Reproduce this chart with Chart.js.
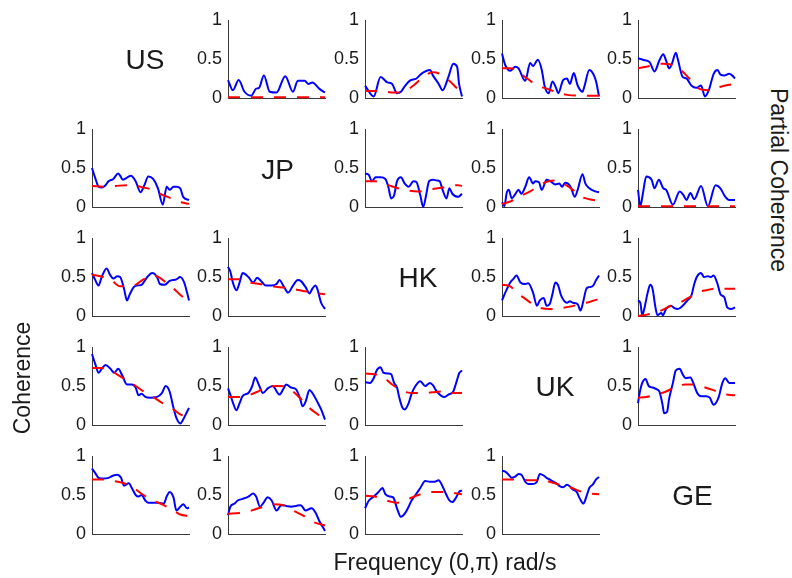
<!DOCTYPE html>
<html><head><meta charset="utf-8">
<script src="https://cdn.jsdelivr.net/npm/chart.js@4"></script>
<style>
html,body{margin:0;padding:0;background:#fff}
body{width:792px;height:578px;overflow:hidden;position:relative;font-family:"Liberation Sans",Arial,sans-serif;color:#000}
.pan{position:absolute}
.lab{position:absolute;line-height:1;white-space:nowrap;transform:translate(-50%,-50%)}
</style></head><body>
<script>
// ---------- data (x = fraction of frequency range 0..pi, y = coherence) ----------
const countries = ['US','JP','HK','UK','GE'];
const yTicks = [0, 0.5, 1];
const yTickLabels = ['0', '0.5', '1'];

// Row US (partial coherence, upper triangle)
const US_JP_blue = [[0,.23],[.05,.10],[.11,.23],[.17,.08],[.24,.03],[.29,.12],[.32,.13],[.37,.29],[.43,.08],[.5,.07],[.59,.28],[.67,.08],[.72,.22],[.79,.22],[.83,.18],[.87,.2],[.94,.12],[1,.07]];
const US_JP_red = [[0,.01],[1,.01]];
const US_HK_blue = [[0,.16],[.09,.02],[.16,.27],[.23,.2],[.28,.18],[.33,.06],[.37,.08],[.41,.15],[.46,.22],[.53,.25],[.58,.31],[.67,.36],[.70,.29],[.76,.18],[.80,.10],[.86,.27],[.91,.44],[.95,.40],[.97,.18],[1,.02]];
const US_HK_red = [[0,.09],[.15,.09],[.3,.07],[.36,.07],[.5,.16],[.6,.27],[.7,.33],[.77,.31],[.86,.23],[.97,.1],[1,.07]];
const US_UK_blue = [[0,.57],[.034,.42],[.085,.35],[.137,.40],[.17,.38],[.24,.22],[.29,.45],[.32,.41],[.37,.49],[.41,.36],[.44,.15],[.48,.06],[.52,.21],[.56,.12],[.58,.06],[.63,.23],[.67,.25],[.70,.18],[.74,.32],[.78,.16],[.83,.08],[.85,.15],[.90,.36],[.94,.31],[.97,.21],[1,.02]];
const US_UK_red = [[0,.38],[.085,.38],[.137,.37],[.19,.31],[.26,.25],[.36,.16],[.46,.12],[.55,.08],[.67,.04],[.84,.03],[1,.03]];
const US_GE_blue = [[0,.51],[.05,.49],[.12,.46],[.17,.34],[.22,.48],[.26,.56],[.29,.48],[.32,.38],[.35,.44],[.39,.58],[.41,.5],[.46,.27],[.50,.25],[.55,.16],[.60,.13],[.65,.16],[.69,.02],[.73,.10],[.78,.31],[.82,.36],[.85,.30],[.89,.29],[.94,.31],[.97,.29],[1,.25]];
const US_GE_red = [[0,.38],[.12,.41],[.26,.44],[.36,.42],[.44,.36],[.53,.25],[.63,.12],[.73,.1],[.84,.14],[.94,.17],[1,.18]];

// Row JP
const JP_US_blue = [[0,.50],[.034,.37],[.068,.26],[.10,.25],[.14,.28],[.17,.33],[.22,.36],[.27,.43],[.32,.35],[.34,.36],[.40,.40],[.45,.33],[.50,.19],[.54,.28],[.58,.39],[.63,.36],[.68,.24],[.73,.03],[.77,.26],[.80,.22],[.84,.26],[.87,.26],[.91,.24],[.94,.13],[1,.09]];
const JP_US_red = [[0,.27],[.12,.26],[.24,.27],[.36,.28],[.45,.27],[.53,.25],[.60,.23],[.70,.17],[.80,.12],[.92,.06],[1,.04]];
const JP_HK_blue = [[0,.43],[.04,.41],[.07,.33],[.11,.38],[.16,.38],[.21,.36],[.24,.26],[.27,.11],[.30,.15],[.33,.33],[.37,.38],[.41,.30],[.45,.26],[.50,.33],[.53,.32],[.57,.15],[.60,.0],[.63,.15],[.66,.33],[.70,.35],[.74,.34],[.77,.33],[.80,.22],[.84,.11],[.87,.24],[.90,.17],[.96,.13],[1,.17]];
const JP_HK_red = [[0,.33],[.1,.33],[.24,.28],[.34,.24],[.45,.21],[.55,.2],[.7,.23],[.8,.25],[.96,.28],[1,.27]];
const JP_UK_blue = [[0,.06],[.024,.01],[.05,.19],[.07,.22],[.10,.11],[.14,.17],[.17,.22],[.20,.17],[.24,.26],[.28,.38],[.32,.30],[.34,.33],[.38,.32],[.41,.22],[.46,.35],[.50,.33],[.55,.29],[.59,.30],[.62,.26],[.65,.31],[.68,.30],[.71,.25],[.75,.13],[.78,.22],[.83,.42],[.86,.30],[.90,.24],[.96,.20],[1,.19]];
const JP_UK_red = [[0,.04],[.085,.07],[.19,.14],[.29,.2],[.39,.28],[.48,.33],[.56,.34],[.66,.28],[.73,.22],[.82,.13],[.9,.1],[1,.08]];
const JP_GE_blue = [[0,.22],[.024,.01],[.05,.17],[.085,.39],[.14,.35],[.17,.24],[.215,.35],[.26,.24],[.29,.22],[.36,.03],[.43,.2],[.47,.15],[.5,.09],[.54,.18],[.58,.1],[.65,.27],[.72,.01],[.80,.28],[.85,.24],[.89,.15],[.94,.09],[1,.09]];
const JP_GE_red = [[0,.01],[1,.01]];

// Row HK
const HK_US_blue = [[0,.55],[.034,.46],[.068,.39],[.10,.50],[.15,.61],[.19,.52],[.22,.48],[.26,.51],[.29,.50],[.33,.35],[.36,.20],[.39,.28],[.43,.37],[.46,.39],[.51,.40],[.57,.50],[.62,.55],[.67,.50],[.70,.41],[.75,.40],[.80,.45],[.87,.47],[.91,.50],[.95,.43],[.98,.30],[1,.20]];
const HK_US_red = [[0,.53],[.086,.51],[.19,.47],[.29,.38],[.36,.38],[.45,.40],[.53,.47],[.62,.52],[.70,.49],[.77,.42],[.86,.33],[.92,.26],[1,.20]];
const HK_JP_blue = [[0,.63],[.024,.57],[.05,.43],[.086,.33],[.12,.43],[.15,.55],[.21,.50],[.26,.43],[.30,.49],[.34,.45],[.39,.39],[.45,.39],[.50,.41],[.53,.46],[.57,.39],[.62,.30],[.67,.39],[.72,.46],[.75,.45],[.80,.37],[.84,.29],[.87,.35],[.90,.39],[.92,.35],[.96,.17],[1,.09]];
const HK_JP_red = [[0,.47],[.12,.47],[.22,.43],[.33,.41],[.46,.38],[.60,.36],[.74,.33],[.87,.30],[1,.28]];
const HK_UK_blue = [[0,.20],[.034,.30],[.085,.43],[.12,.48],[.15,.52],[.19,.43],[.24,.41],[.27,.42],[.32,.30],[.36,.13],[.39,.20],[.43,.23],[.46,.13],[.49,.15],[.52,.28],[.55,.43],[.58,.39],[.61,.26],[.67,.17],[.70,.19],[.73,.17],[.78,.15],[.81,.07],[.84,.20],[.87,.35],[.90,.37],[.94,.39],[.97,.46],[1,.52]];
const HK_UK_red = [[0,.40],[.085,.38],[.15,.30],[.24,.22],[.32,.15],[.41,.10],[.49,.09],[.6,.10],[.7,.12],[.8,.15],[.9,.18],[1,.22]];
const HK_GE_blue = [[0,.20],[.024,.17],[.044,.01],[.068,.11],[.10,.30],[.126,.40],[.15,.35],[.18,.11],[.20,.01],[.24,.04],[.256,.01],[.29,.09],[.34,.13],[.375,.10],[.41,.09],[.46,.13],[.51,.20],[.55,.26],[.58,.41],[.61,.51],[.65,.55],[.68,.50],[.72,.51],[.75,.50],[.78,.52],[.82,.41],[.85,.28],[.89,.24],[.92,.11],[.96,.09],[1,.11]];
const HK_GE_red = [[0,.0],[.1,.02],[.22,.06],[.32,.12],[.43,.17],[.53,.24],[.61,.3],[.7,.33],[.8,.35],[.9,.35],[1,.35]];

// Row UK
const UK_US_blue = [[0,.91],[.034,.78],[.068,.67],[.10,.72],[.14,.77],[.19,.72],[.23,.67],[.27,.72],[.31,.64],[.36,.52],[.41,.52],[.45,.48],[.48,.38],[.51,.40],[.55,.36],[.60,.35],[.67,.36],[.72,.41],[.76,.50],[.80,.43],[.84,.22],[.87,.09],[.91,.02],[.94,.07],[.98,.17],[1,.22]];
const UK_US_red = [[0,.73],[.1,.73],[.19,.70],[.27,.64],[.36,.57],[.45,.50],[.53,.43],[.64,.35],[.74,.27],[.84,.20],[.92,.13],[1,.11]];
const UK_JP_blue = [[0,.47],[.024,.39],[.058,.26],[.086,.19],[.12,.28],[.15,.37],[.21,.41],[.25,.50],[.28,.61],[.32,.51],[.36,.41],[.41,.47],[.46,.50],[.53,.39],[.57,.46],[.60,.52],[.65,.48],[.70,.46],[.74,.35],[.77,.24],[.80,.30],[.84,.45],[.87,.41],[.92,.30],[.96,.20],[1,.07]];
const UK_JP_red = [[0,.36],[.086,.36],[.19,.37],[.29,.42],[.39,.48],[.50,.50],[.60,.49],[.67,.43],[.74,.35],[.82,.24],[.91,.15],[1,.07]];
const UK_HK_blue = [[0,.55],[.05,.54],[.09,.6],[.12,.7],[.16,.74],[.19,.67],[.24,.66],[.27,.65],[.30,.54],[.33,.48],[.35,.37],[.38,.24],[.41,.2],[.45,.28],[.48,.4],[.52,.5],[.57,.56],[.62,.5],[.67,.54],[.70,.51],[.74,.43],[.79,.37],[.82,.36],[.86,.39],[.91,.43],[.94,.54],[.97,.66],[1,.7]];
const UK_HK_red = [[0,.66],[.1,.65],[.2,.6],[.28,.52],[.33,.48],[.4,.43],[.5,.41],[.6,.41],[.7,.42],[.78,.43],[.88,.41],[1,.41]];
const UK_GE_blue = [[0,.28],[.017,.41],[.044,.54],[.078,.59],[.11,.50],[.15,.48],[.19,.46],[.22,.43],[.25,.28],[.27,.15],[.30,.17],[.32,.33],[.36,.54],[.39,.70],[.43,.72],[.46,.65],[.49,.60],[.54,.61],[.57,.54],[.61,.41],[.65,.37],[.70,.37],[.74,.35],[.78,.26],[.83,.35],[.87,.54],[.90,.60],[.94,.54],[1,.54]];
const UK_GE_red = [[0,.35],[.085,.36],[.19,.39],[.29,.43],[.39,.49],[.49,.52],[.58,.52],[.67,.49],[.77,.45],[.87,.40],[1,.38]];

// Row GE
const GE_US_blue = [[0,.84],[.034,.78],[.068,.72],[.12,.71],[.17,.72],[.22,.75],[.26,.76],[.30,.72],[.33,.62],[.38,.65],[.41,.59],[.45,.50],[.48,.48],[.51,.50],[.55,.43],[.58,.40],[.63,.40],[.68,.40],[.74,.39],[.77,.48],[.80,.54],[.84,.47],[.87,.30],[.91,.35],[.94,.38],[.98,.33],[1,.34]];
const GE_US_red = [[0,.70],[.1,.70],[.22,.68],[.33,.65],[.43,.59],[.53,.50],[.63,.43],[.74,.37],[.84,.30],[.91,.25],[1,.23]];
const GE_JP_blue = [[0,.24],[.024,.35],[.068,.39],[.10,.43],[.15,.45],[.21,.48],[.26,.52],[.29,.48],[.33,.35],[.36,.39],[.41,.47],[.45,.43],[.50,.30],[.55,.37],[.60,.36],[.65,.35],[.70,.36],[.75,.37],[.80,.30],[.86,.33],[.90,.28],[.94,.17],[1,.04]];
const GE_JP_red = [[0,.26],[.12,.27],[.24,.30],[.36,.35],[.46,.38],[.57,.37],[.67,.30],[.77,.24],[.87,.16],[1,.11]];
const GE_HK_blue = [[0,.33],[.04,.43],[.09,.48],[.14,.54],[.18,.59],[.21,.51],[.26,.48],[.29,.47],[.33,.33],[.37,.22],[.41,.26],[.45,.35],[.48,.43],[.52,.5],[.57,.59],[.62,.68],[.67,.67],[.72,.67],[.76,.69],[.80,.61],[.84,.5],[.87,.43],[.90,.41],[.94,.47],[.97,.54],[1,.56]];
const GE_HK_red = [[0,.49],[.1,.48],[.25,.42],[.33,.4],[.45,.45],[.55,.5],[.7,.54],[.8,.54],[.95,.52],[1,.51]];
const GE_UK_blue = [[0,.81],[.034,.80],[.068,.76],[.10,.72],[.14,.74],[.17,.77],[.20,.76],[.24,.67],[.27,.64],[.32,.64],[.36,.67],[.39,.77],[.43,.75],[.46,.72],[.49,.70],[.53,.67],[.56,.65],[.60,.61],[.63,.60],[.67,.63],[.70,.61],[.73,.57],[.77,.54],[.80,.46],[.84,.39],[.87,.48],[.90,.59],[.94,.64],[.97,.70],[1,.73]];
const GE_UK_red = [[0,.70],[.12,.70],[.26,.69],[.39,.69],[.49,.67],[.60,.63],[.70,.60],[.80,.55],[.90,.52],[1,.51]];

const series = {
  US_JP:[US_JP_blue,US_JP_red], US_HK:[US_HK_blue,US_HK_red], US_UK:[US_UK_blue,US_UK_red], US_GE:[US_GE_blue,US_GE_red],
  JP_US:[JP_US_blue,JP_US_red], JP_HK:[JP_HK_blue,JP_HK_red], JP_UK:[JP_UK_blue,JP_UK_red], JP_GE:[JP_GE_blue,JP_GE_red],
  HK_US:[HK_US_blue,HK_US_red], HK_JP:[HK_JP_blue,HK_JP_red], HK_UK:[HK_UK_blue,HK_UK_red], HK_GE:[HK_GE_blue,HK_GE_red],
  UK_US:[UK_US_blue,UK_US_red], UK_JP:[UK_JP_blue,UK_JP_red], UK_HK:[UK_HK_blue,UK_HK_red], UK_GE:[UK_GE_blue,UK_GE_red],
  GE_US:[GE_US_blue,GE_US_red], GE_JP:[GE_JP_blue,GE_JP_red], GE_HK:[GE_HK_blue,GE_HK_red], GE_UK:[GE_UK_blue,GE_UK_red]
};

// ---------- layout ----------
const colLeft = [92, 228, 365, 502, 638];
const rowTop = [20, 129, 238, 347, 456];
const PW = 97, PH = 78;
const L = 48, R = 6, T = 20, B = 20;
const axisColor = '#3a3a3a';
const textColor = '#1a1a1a';

const toXY = arr => arr.map(p => ({x: p[0], y: p[1]}));

for (let r = 0; r < 5; r++) {
  for (let c = 0; c < 5; c++) {
    if (r === c) continue;
    const key = countries[r] + '_' + countries[c];
    const [blue, red] = series[key];
    const div = document.createElement('div');
    div.className = 'pan';
    div.style.left = (colLeft[c] - L) + 'px';
    div.style.top = (rowTop[r] - T) + 'px';
    const cv = document.createElement('canvas');
    const w = L + PW + R, h = T + PH + B;
    cv.width = w; cv.height = h;
    cv.style.width = w + 'px'; cv.style.height = h + 'px';
    div.appendChild(cv);
    document.body.appendChild(div);
    new Chart(cv, {
      type: 'line',
      data: {
        datasets: [
          {data: toXY(red), borderColor: '#ff0000', borderWidth: 2, borderDash: [12, 11], pointRadius: 0, cubicInterpolationMode: 'monotone', fill: false, clip: 4},
          {data: toXY(blue), borderColor: '#0000ff', borderWidth: 2, pointRadius: 0, cubicInterpolationMode: 'monotone', fill: false, clip: 4}
        ]
      },
      options: {
        responsive: false, animation: false, devicePixelRatio: 1,
        layout: {padding: {left: 0, right: R, top: T, bottom: B}},
        plugins: {legend: {display: false}, tooltip: {enabled: false}},
        events: [],
        scales: {
          x: {type: 'linear', min: 0, max: 1,
              grid: {display: false, drawTicks: false},
              ticks: {display: false},
              border: {display: true, color: axisColor, width: 1},
              afterFit: s => { s.height = 0; }},
          y: {type: 'linear', min: 0, max: 1,
              grid: {display: false, drawTicks: false},
              border: {display: true, color: axisColor, width: 1},
              afterBuildTicks: s => { s.ticks = yTicks.map(v => ({value: v})); },
              ticks: {padding: 6, color: textColor, font: {family: 'Liberation Sans', size: 18},
                      callback: v => yTickLabels[yTicks.indexOf(v)]},
              afterFit: s => { s.width = L; }}
        }
      }
    });
  }
}

// ---------- text labels ----------
function addLabel(text, x, y, size, rot) {
  const d = document.createElement('div');
  d.className = 'lab';
  d.textContent = text;
  d.style.left = x + 'px'; d.style.top = y + 'px';
  d.style.fontSize = size + 'px';
  d.style.color = textColor;
  d.style.transform = 'translate(-50%,-50%)' + (rot ? ' rotate(' + rot + 'deg)' : '');
  document.body.appendChild(d);
}
const diagPos = [[145, 59.5], [277.5, 169.5], [418, 277.5], [555, 387], [692.5, 496]];
countries.forEach((c, i) => addLabel(c, diagPos[i][0], diagPos[i][1], 28, 0));
addLabel('Coherence', 22, 377.5, 23, -90);
addLabel('Partial Coherence', 778, 179.5, 23, 90);
addLabel('Frequency (0,\u03c0) rad/s', 445, 562, 23, 0);
</script>
</body></html>
